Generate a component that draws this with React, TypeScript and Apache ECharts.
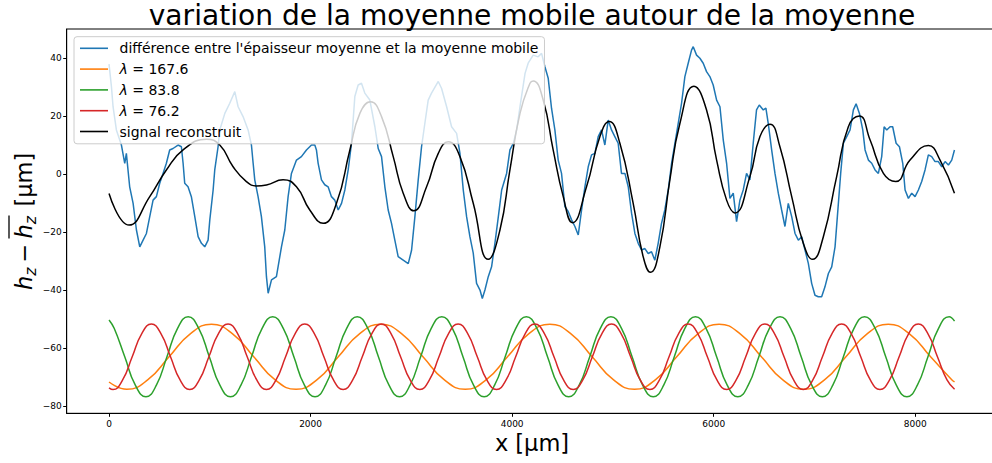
import React, { useEffect, useRef } from "react";
import * as echarts from "echarts";

const FONT = '"DejaVu Sans", "Liberation Sans", sans-serif';

const TITLE = "variation de la moyenne mobile autour de la moyenne";
const X_LABEL = "x [µm]";
const SERIES_NAMES = [
  "différence entre l'épaisseur moyenne et la moyenne mobile",
  "λ = 167.6",
  "λ = 83.8",
  "λ = 76.2",
  "signal reconstruit",
];
const X_TICKS = [0, 2000, 4000, 6000, 8000];
const Y_TICKS = [-80, -60, -40, -20, 0, 20, 40];

// blue: difference between mean thickness and moving average
const blueSignal: [number, number][] = [
  [0, 38], [24, 30.2], [40, 23.3], [73, 15.3], [123, 10.1], [156, 3.8], [172, 7.2], [205, -4.3],
  [239, -10], [272, -19.2], [305, -25], [338, -22.7], [371, -20.4], [404, -14.6], [437, -8.9],
  [470, -7.7], [503, -3.1], [536, 0.3], [569, 3.8], [602, 8.4], [635, 8.9], [685, 10.1],
  [718, 9.5], [735, 3.8], [751, -3.1], [784, -4.3], [817, -7.7], [851, -14.6], [884, -21.5],
  [917, -23.8], [950, -25], [983, -22.7], [1000, -15.7], [1033, -5.4], [1049, 1.5], [1082, 9.5],
  [1099, 15.3], [1149, 21], [1198, 24.5], [1248, 28.5], [1281, 23.3], [1330, 19.9], [1380, 15.3],
  [1413, 10.1], [1430, 3.8], [1446, -1.9], [1479, -7.7], [1512, -14.6], [1545, -25], [1562, -35.3],
  [1579, -41], [1612, -36.4], [1661, -35.3], [1711, -25], [1744, -19.2], [1777, -7.7], [1810, 0.3],
  [1860, 4.9], [1909, 6.1], [1959, 8.4], [2009, 10.1], [2042, 10.1], [2058, 8.4], [2075, 3.8],
  [2108, -1.9], [2141, -3.6], [2174, -4.3], [2207, -7.7], [2240, -8.9], [2274, -12.3], [2307, -10],
  [2340, -5.4], [2373, 1.5], [2406, 10.7], [2439, 26.8], [2472, 30.8], [2505, 31.4], [2538, 28],
  [2588, 25.6], [2638, 16.4], [2671, 8.9], [2704, 6.1], [2737, -4.3], [2770, -12.3], [2803, -16.9],
  [2836, -22.7], [2869, -28.4], [2919, -29.6], [2969, -30.8], [3002, -26.2], [3035, -14.6],
  [3068, -1.9], [3101, 9.5], [3134, 17.6], [3167, 25.6], [3200, 28], [3267, 32], [3300, 29.6],
  [3350, 23.3], [3399, 16.4], [3449, 14.1], [3482, 7.2], [3515, -5.4], [3548, -14.6], [3581, -21.5],
  [3614, -27.2], [3647, -37.6], [3681, -39.9], [3704, -42.8], [3730, -39.9], [3763, -35.3],
  [3796, -31.9], [3829, -23.8], [3863, -14.6], [3896, -5.4], [3945, 0.3], [3978, 8.4], [4012, 10.7],
  [4045, 15.3], [4078, 23.3], [4128, 34.8], [4159, 38.3], [4209, 41.1], [4258, 40.5], [4292, 41.7],
  [4325, 37.1], [4358, 33.1], [4391, 22.7], [4424, 15.3], [4457, 4.9], [4490, 0.3], [4523, -11.1],
  [4556, -12.8], [4590, -15.7], [4623, -18], [4656, -20.9], [4689, -12.3], [4722, -4.3], [4755, 2.6],
  [4788, 6.7], [4821, 7.2], [4854, 13], [4887, 15.3], [4920, 10.1], [4953, 18.7], [4986, 15.3],
  [5019, 13], [5052, 10.7], [5085, 0.3], [5119, 0.3], [5152, -4.3], [5185, -13.4], [5218, -20.4],
  [5251, -23.8], [5284, -26.1], [5317, -25.6], [5350, -27.3], [5383, -26.7], [5416, -29.6],
  [5449, -23.8], [5482, -16.9], [5515, -12.3], [5549, -5.4], [5582, 3.8], [5615, 10.7], [5648, 17.6],
  [5681, 24.5], [5714, 33.7], [5747, 38.3], [5780, 42.8], [5797, 44], [5830, 41.1], [5863, 40],
  [5896, 38.3], [5929, 35.4], [5962, 33.7], [5995, 30.8], [6029, 25.6], [6062, 23.3], [6095, 11.8],
  [6128, 3.8], [6161, -8.3], [6194, -6.5], [6227, -16.3], [6260, -8.9], [6293, -5.4], [6326, 0.3],
  [6359, -1.9], [6392, 10.7], [6425, 22.2], [6452, 23.9], [6492, 22.2], [6518, 22.8], [6541, 17.6],
  [6575, 8.4], [6608, 0.3], [6641, -6.5], [6674, -12.3], [6707, -18], [6740, -10], [6774, -14.6],
  [6807, -20.4], [6840, -22.7], [6873, -21.5], [6906, -26.1], [6939, -30.7], [6972, -37.6],
  [7005, -41.7], [7038, -42.2], [7071, -42.2], [7104, -38.8], [7138, -34.2], [7171, -31.9],
  [7204, -25], [7227, -14.6], [7260, 0.3], [7287, 10.7], [7320, 13], [7353, 15.3], [7386, 22.2],
  [7413, 24.3], [7446, 21], [7479, 15.3], [7502, 8.4], [7535, 4.9], [7568, 3.8], [7601, 1.5],
  [7634, 0.3], [7667, 6.1], [7691, 16.4], [7717, 15.3], [7750, 16.4], [7776, 16.4], [7810, 10.7],
  [7843, 9.5], [7876, 3.8], [7899, -5.4], [7932, -8.3], [7965, -6.5], [7998, -7.7], [8031, -5.4],
  [8064, -2.5], [8097, 1.5], [8130, 6.7], [8163, 6.1], [8196, 4.4], [8229, 4.4], [8263, 2.6],
  [8296, 4.4], [8329, 3.2], [8362, 4.9], [8389, 8.4],
];

// orange: lambda = 167.6 component (points read at extrema and eighth-periods)
const orangeWave: [number, number][] = [
  [0, -71.6], [177, -74.1], [386, -70.8], [596, -62.9], [806, -55.0], [1016, -51.7], [1226, -55.0],
  [1436, -62.9], [1646, -70.8], [1856, -74.1], [2065, -70.8], [2275, -62.9], [2485, -55.0],
  [2695, -51.7], [2905, -55.0], [3115, -62.9], [3325, -70.8], [3535, -74.1], [3744, -70.8],
  [3954, -62.9], [4164, -55.0], [4374, -51.7], [4584, -55.0], [4794, -62.9], [5004, -70.8],
  [5214, -74.1], [5423, -70.8], [5633, -62.9], [5843, -55.0], [6053, -51.7], [6263, -55.0],
  [6473, -62.9], [6683, -70.8], [6893, -74.1], [7102, -70.8], [7312, -62.9], [7522, -55.0],
  [7732, -51.7], [7942, -55.0], [8152, -62.9], [8362, -70.8], [8390, -71.6],
];

// green: lambda = 83.8 component
const greenWave: [number, number][] = [
  [0, -50.2], [51, -53.1], [156, -62.9], [261, -72.7], [366, -76.7], [470, -72.7], [575, -62.9], [680, -53.1],
  [785, -49.1], [890, -53.1], [995, -62.9], [1100, -72.7], [1205, -76.7], [1309, -72.7], [1414, -62.9], [1519, -53.1],
  [1624, -49.1], [1729, -53.1], [1834, -62.9], [1939, -72.7], [2044, -76.7], [2148, -72.7], [2253, -62.9], [2358, -53.1],
  [2463, -49.1], [2568, -53.1], [2673, -62.9], [2778, -72.7], [2883, -76.7], [2987, -72.7], [3092, -62.9], [3197, -53.1],
  [3302, -49.1], [3407, -53.1], [3512, -62.9], [3617, -72.7], [3722, -76.7], [3826, -72.7], [3931, -62.9], [4036, -53.1],
  [4141, -49.1], [4246, -53.1], [4351, -62.9], [4456, -72.7], [4561, -76.7], [4665, -72.7], [4770, -62.9], [4875, -53.1],
  [4980, -49.1], [5085, -53.1], [5190, -62.9], [5295, -72.7], [5400, -76.7], [5504, -72.7], [5609, -62.9], [5714, -53.1],
  [5819, -49.1], [5924, -53.1], [6029, -62.9], [6134, -72.7], [6239, -76.7], [6343, -72.7], [6448, -62.9], [6553, -53.1],
  [6658, -49.1], [6763, -53.1], [6868, -62.9], [6973, -72.7], [7078, -76.7], [7182, -72.7], [7287, -62.9], [7392, -53.1],
  [7497, -49.1], [7602, -53.1], [7707, -62.9], [7812, -72.7], [7917, -76.7], [8021, -72.7], [8126, -62.9], [8231, -53.1],
  [8336, -49.1], [8390, -50.6],
];

// red: lambda = 76.2 component
const redWave: [number, number][] = [
  [0, -73.6], [40, -74.2], [135, -70.9], [230, -62.9], [325, -54.9],
  [420, -51.6], [515, -54.9], [610, -62.9], [705, -70.9], [801, -74.2], [896, -70.9], [991, -62.9], [1086, -54.9],
  [1181, -51.6], [1276, -54.9], [1371, -62.9], [1466, -70.9], [1562, -74.2], [1657, -70.9], [1752, -62.9], [1847, -54.9],
  [1942, -51.6], [2037, -54.9], [2132, -62.9], [2227, -70.9], [2323, -74.2], [2418, -70.9], [2513, -62.9], [2608, -54.9],
  [2703, -51.6], [2798, -54.9], [2893, -62.9], [2988, -70.9], [3084, -74.2], [3179, -70.9], [3274, -62.9], [3369, -54.9],
  [3464, -51.6], [3559, -54.9], [3654, -62.9], [3749, -70.9], [3845, -74.2], [3940, -70.9], [4035, -62.9], [4130, -54.9],
  [4225, -51.6], [4320, -54.9], [4415, -62.9], [4510, -70.9], [4606, -74.2], [4701, -70.9], [4796, -62.9], [4891, -54.9],
  [4986, -51.6], [5081, -54.9], [5176, -62.9], [5271, -70.9], [5367, -74.2], [5462, -70.9], [5557, -62.9], [5652, -54.9],
  [5747, -51.6], [5842, -54.9], [5937, -62.9], [6032, -70.9], [6128, -74.2], [6223, -70.9], [6318, -62.9], [6413, -54.9],
  [6508, -51.6], [6603, -54.9], [6698, -62.9], [6793, -70.9], [6889, -74.2], [6984, -70.9], [7079, -62.9], [7174, -54.9],
  [7269, -51.6], [7364, -54.9], [7459, -62.9], [7554, -70.9], [7650, -74.2], [7745, -70.9], [7840, -62.9], [7935, -54.9],
  [8030, -51.6], [8125, -54.9], [8220, -62.9], [8315, -70.9], [8390, -74.1],
];

// black: reconstructed signal
const reconstructed: [number, number][] = [
  [0, -6.6], [199, -17.5], [404, -7.7], [569, 1.5], [735, 8.4], [967, 12.1], [1099, 10.1], [1231, 2.6],
  [1363, -2.5], [1462, -4], [1562, -3.7], [1727, -1.9], [1860, -4.3], [1992, -12.3], [2125, -16.9],
  [2257, -10], [2390, 8.4], [2489, 21], [2595, 25], [2704, 19.9], [2820, 6.1], [2919, -6.5],
  [3025, -12.6], [3151, -4.3], [3267, 7.2], [3366, 11.2], [3482, 6.1], [3614, -10], [3763, -29.3],
  [3879, -19.2], [3978, 1.5], [4078, 21], [4177, 31.4], [4209, 32.2], [4308, 25.6], [4407, 8.4],
  [4507, -7.7], [4599, -16.7], [4738, -4.3], [4871, 13], [4963, 18.2], [5069, 10.7], [5201, -10],
  [5300, -28.4], [5373, -33.8], [5466, -25], [5565, -1.9], [5665, 17.6], [5804, 30.4], [5929, 22.2],
  [6029, 4.9], [6128, -8.9], [6210, -13.3], [6359, -0.8], [6459, 13], [6558, 17.3], [6657, 9.5],
  [6774, -7.7], [6889, -23.8], [6982, -29.3], [7088, -21.5], [7220, -0.8], [7336, 16.4], [7446, 20.1],
  [7552, 11.8], [7684, 0.3], [7806, -2.5], [7948, 4.9], [8130, 9.9], [8246, 4.9], [8389, -6.5],
];

const COLORS = ["#1f77b4", "#ff7f0e", "#2ca02c", "#d62728", "#000000"];

function txt(text: string, x: number, y: number, size: number, opts: any = {}) {
  return {
    type: "text",
    x,
    y,
    silent: true,
    style: {
      text,
      fontSize: size,
      fontFamily: FONT,
      fontStyle: opts.italic ? "italic" : "normal",
      fill: "#000",
      align: opts.align || "left",
      textAlign: opts.align || "left",
      verticalAlign: "middle",
      textVerticalAlign: "middle",
    },
  };
}

export default function App() {
  const ref = useRef<HTMLDivElement>(null);
  useEffect(() => {
    if (!ref.current) return;
    const chart = echarts.init(ref.current, undefined, { renderer: "svg" });
    const datasets = [blueSignal, orangeWave, greenWave, redWave, reconstructed];
    const fs = 22.5;
    const sub = 15.75;
    const mid = -0.35 * fs;
    const shift = 2;
    const yLabelChildren: any[] = [
      txt("h", -71 + shift, mid, fs, { italic: true }),
      txt("z", -56.7 + shift, 4.5 - 0.35 * sub, sub, { italic: true }),
      txt("\u2212", -43.4 + shift, mid, fs),
      txt("h", -19.5 + shift, mid, fs, { italic: true }),
      txt("z", -5.2 + shift, 4.5 - 0.35 * sub, sub, { italic: true }),
      {
        type: "line",
        silent: true,
        shape: { x1: -19.5 + shift, y1: -23, x2: 3.6 + shift, y2: -23 },
        style: { stroke: "#000", lineWidth: 1.3 },
      },
      txt("[µm]", 12.5 + shift, mid, fs),
    ];
    chart.setOption({
      animation: false,
      backgroundColor: "#fff",
      textStyle: { fontFamily: FONT },
      grid: {
        left: 66.7,
        top: 29,
        right: 2.1,
        bottom: 49.7,
        show: true,
        borderColor: "#000",
        borderWidth: 1,
        backgroundColor: "transparent",
      },
      xAxis: {
        type: "value",
        min: -420,
        max: 8820,
        splitLine: { show: false },
        axisLine: { show: true, onZero: false, lineStyle: { color: "#000", width: 1 } },
        axisTick: { show: true, length: 3.5, customValues: X_TICKS, lineStyle: { color: "#000", width: 1 } },
        axisLabel: {
          customValues: X_TICKS,
          fontSize: 9,
          color: "#000",
          margin: 6,
          fontFamily: FONT,
          formatter: (v: number) => String(v),
        },
      },
      yAxis: {
        type: "value",
        min: -82.4,
        max: 50.1,
        splitLine: { show: false },
        axisLine: { show: true, onZero: false, lineStyle: { color: "#000", width: 1 } },
        axisTick: { show: true, length: 3.5, customValues: Y_TICKS, lineStyle: { color: "#000", width: 1 } },
        axisLabel: {
          customValues: Y_TICKS,
          fontSize: 9,
          color: "#000",
          margin: 5,
          fontFamily: FONT,
          formatter: (v: number) => (v < 0 ? "\u2212" + Math.abs(v) : String(v)),
        },
      },
      legend: {
        orient: "vertical",
        left: 74,
        top: 36.7,
        padding: [4.6, 6, 5.3, 6],
        icon: "rect",
        itemWidth: 28,
        itemHeight: 1.6,
        itemGap: 6.8,
        backgroundColor: "rgba(255,255,255,0.8)",
        borderColor: "#cccccc",
        borderWidth: 1,
        borderRadius: 3,
        data: SERIES_NAMES,
        formatter: (name: string) => (name.startsWith("λ") ? "{it|λ}" + name.slice(1) : name),
        textStyle: {
          fontSize: 14,
          lineHeight: 14,
          color: "#000",
          fontFamily: FONT,
          padding: [0, 0, 0, 6.5],
          rich: {
            it: { fontStyle: "italic", fontSize: 14, lineHeight: 14, fontFamily: FONT, color: "#000" },
          },
        },
      },
      series: datasets.map((d, i) => ({
        name: SERIES_NAMES[i],
        type: "line",
        data: d,
        symbol: "none",
        showSymbol: false,
        smooth: i === 0 ? false : 0.5,
        lineStyle: { color: COLORS[i], width: 1.5 },
        itemStyle: { color: COLORS[i] },
        z: 2 + i * 0.01,
      })),
      graphic: [
        txt(TITLE, 532, 15.5, 28.1, { align: "center" }),
        txt(X_LABEL, 532, 443, 22.5, { align: "center" }),
        {
          type: "group",
          x: 32,
          y: 221,
          rotation: Math.PI / 2,
          silent: true,
          children: yLabelChildren,
        },
      ],
    });
    return () => chart.dispose();
  }, []);
  return (
    <div style={{ position: "fixed", left: 0, top: 0, width: 992, height: 463, overflow: "hidden", background: "#fff" }}>
      <div ref={ref} style={{ width: 1000, height: 463 }} />
    </div>
  );
}
